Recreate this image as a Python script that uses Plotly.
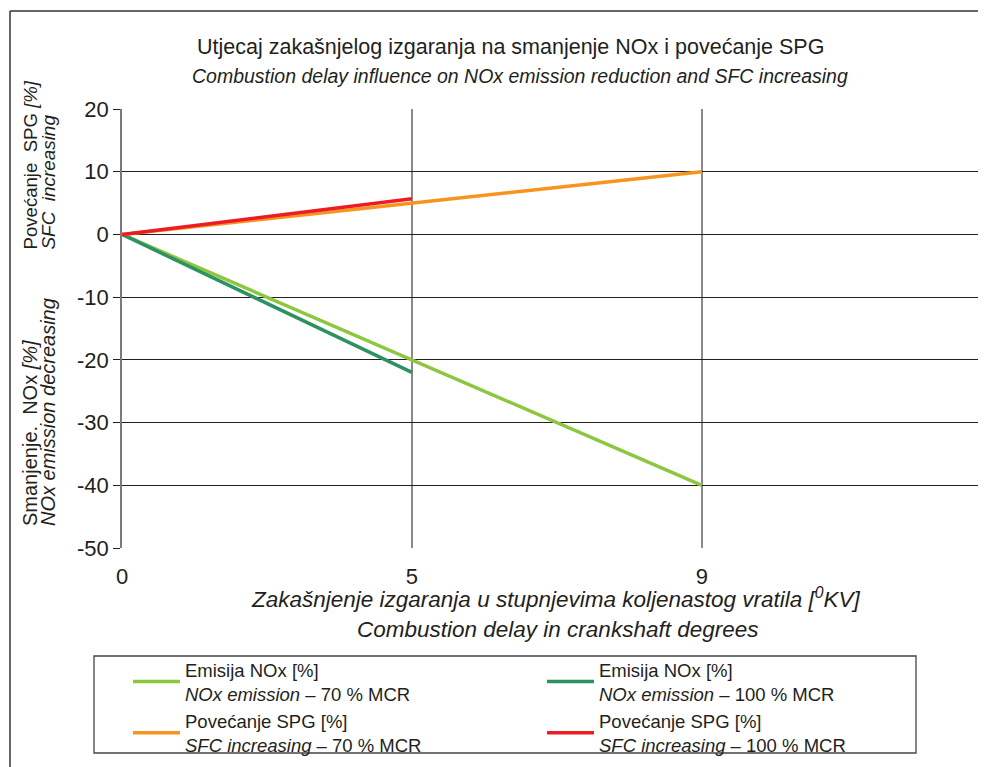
import plotly.graph_objects as go

# ---- data ----
x_categories = ["0", "5", "9"]
nox_70 = [0, -20, -40]          # Emisija NOx 70 % MCR
nox_100 = [0, -22]              # Emisija NOx 100 % MCR
sfc_70 = [0, 5, 10]             # Povećanje SPG 70 % MCR
sfc_100 = [0, 5.7]              # Povećanje SPG 100 % MCR
y_tick_vals = [20, 10, 0, -10, -20, -30, -40, -50]
y_tick_text = ["20", "10", "0", "-10", "-20", "-30", "-40", "-50"]

names = [
    "Emisija NOx [%]<br><i>NOx emission</i> – 70 % MCR",
    "Emisija NOx [%]<br><i>NOx emission</i> – 100 % MCR",
    "Povećanje SPG [%]<br><i>SFC increasing</i> – 70 % MCR",
    "Povećanje SPG [%]<br><i>SFC increasing</i> – 100 % MCR",
]
colors = ["#8DC63F", "#2E9162", "#F7941D", "#ED1C24"]

OFF = 8  # page body margin
W, H = 986 - OFF, 767 - OFF
# plot area in reference pixels: x 122..986, y 109..548
L, R = 122 - OFF, 0
T, B = 109 - OFF, H - (548 - OFF)
PW, PH = W - L - R, H - T - B


def px(x):
    return (x - OFF - L) / PW


def py(y):
    return (H - B - (y - OFF)) / PH


FONT = "Liberation Sans, Arial, sans-serif"
TXT = "#231F20"

fig = go.Figure()
series = [
    (x_categories, nox_70),
    (x_categories[:len(nox_100)], nox_100),
    (x_categories, sfc_70),
    (x_categories[:len(sfc_100)], sfc_100),
]
for (xs, ys), nm, c in zip(series, names, colors):
    fig.add_trace(go.Scatter(x=xs, y=ys, mode="lines", name=nm,
                             line=dict(color=c, width=3.5)))

fig.update_layout(
    width=W, height=H,
    margin=dict(l=L, r=R, t=T, b=B, autoexpand=False),
    paper_bgcolor="white", plot_bgcolor="white",
    font=dict(family=FONT, color=TXT),
    showlegend=True,
    legend=dict(
        orientation="h", x=px(128), y=py(651), xanchor="left", yanchor="top",
        entrywidth=352, entrywidthmode="pixels", itemwidth=47,
        font=dict(size=18.5, family=FONT, color=TXT), valign="middle",
        bgcolor="rgba(0,0,0,0)", borderwidth=0,
    ),
    xaxis=dict(
        type="category", categoryorder="array", categoryarray=x_categories,
        range=[0, 2.98], showgrid=True, gridcolor="#8A8A8A", gridwidth=1.5,
        zeroline=False, showline=False, ticks="", ticklabelstandoff=13,
        tickfont=dict(size=22, family=FONT, color=TXT),
    ),
    xaxis2=dict(
        overlaying="x", type="linear", range=[0, 2.98],
        tickvals=[1], showticklabels=False, ticks="",
        showgrid=True, gridcolor="#333333", gridwidth=1.3,
        zeroline=False, showline=False,
    ),
    yaxis=dict(
        range=[-50, 20], tickvals=y_tick_vals, ticktext=y_tick_text,
        showgrid=True, gridcolor="#231F20", gridwidth=1.3,
        zeroline=False, showline=True, linecolor="#7A7A7A", linewidth=1.5,
        ticks="outside", ticklen=7, tickwidth=1.3, tickcolor="#231F20",
        tickfont=dict(size=22, family=FONT, color=TXT),
    ),
)

ann = [
    dict(text="Utjecaj zakašnjelog izgaranja na smanjenje NOx i povećanje SPG",
         x=px(510), y=py(47), size=21.5),
    dict(text="<i>Combustion delay influence on NOx emission reduction and SFC increasing</i>",
         x=px(520), y=py(76), size=19.5),
    dict(text="<i>Zakašnjenje izgaranja u stupnjevima koljenastog vratila [<sup>0</sup>KV]</i>",
         x=px(556), y=py(598), size=22.5),
    dict(text="<i>Combustion delay in crankshaft degrees</i>",
         x=px(557), y=py(629), size=22.5),
]
for a in ann:
    fig.add_annotation(text=a["text"], x=a["x"], y=a["y"], xref="paper", yref="paper",
                       xanchor="center", yanchor="middle", showarrow=False,
                       font=dict(size=a["size"], family=FONT, color=TXT))

rot = [
    ("Povećanje  SPG <i>[%]</i>", 30, 252, 18.6),
    ("<i>SFC  increasing</i>", 48, 252, 18.9),
    ("Smanjenje.  NOx <i>[%]</i>", 30, 528, 20),
    ("<i>NOx emission decreasing</i>", 48, 528, 20),
]
for t, xx, yy, sz in rot:
    fig.add_annotation(text=t, x=px(xx), y=py(yy), xref="paper", yref="paper",
                       xanchor="center", yanchor="bottom", textangle=-90,
                       showarrow=False, font=dict(size=sz, family=FONT, color=TXT))

# legend box and outer frame
fig.add_shape(type="rect", xref="paper", yref="paper",
              x0=px(94), x1=px(916), y0=py(753), y1=py(656),
              line=dict(color="#444444", width=1.3))
fig.add_shape(type="line", xref="paper", yref="paper",
              x0=px(10), x1=px(10), y0=py(767), y1=py(11),
              line=dict(color="#333333", width=1.5))
fig.add_shape(type="line", xref="paper", yref="paper",
              x0=px(10), x1=px(986), y0=py(11), y1=py(11),
              line=dict(color="#333333", width=1.5))

fig.write_html("out.html")
